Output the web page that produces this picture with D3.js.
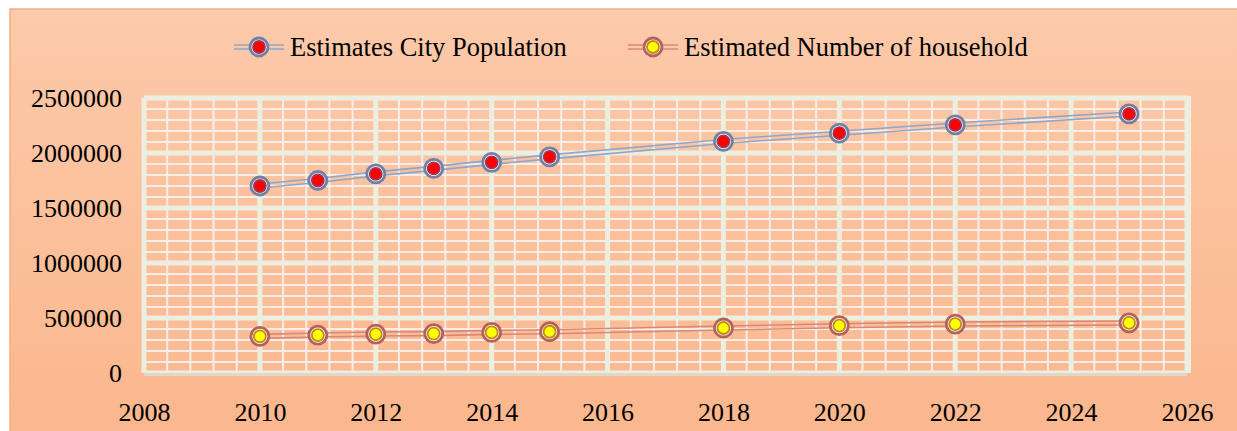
<!DOCTYPE html>
<html>
<head>
<meta charset="utf-8">
<script src="https://cdn.jsdelivr.net/npm/d3@7"></script>
<style>
  body { margin: 0; background: #fff; }
  svg { display: block; font-family: "Liberation Serif", "Times New Roman", serif; }
</style>
</head>
<body>
<svg id="chart" width="1237" height="431"></svg>
<script>
// data
var years = [2010, 2011, 2012, 2013, 2014, 2015, 2018, 2020, 2022, 2025];
var population = [1700000, 1750000, 1810000, 1860000, 1915000, 1965000, 2105000, 2180000, 2255000, 2355000];
var households = [333000, 345000, 354000, 358000, 369000, 375000, 409000, 430000, 445000, 455000];
var seriesNames = ["Estimates City Population", "Estimated Number of household"];
var xTicks = [2008, 2010, 2012, 2014, 2016, 2018, 2020, 2022, 2024, 2026];
var yTicks = [0, 500000, 1000000, 1500000, 2000000, 2500000];

var svg = d3.select("#chart");
var W = 1237, H = 431;
var margin = {top: 98, right: 50, bottom: 58, left: 144};
var plotW = 1187 - margin.left, plotH = 373 - margin.top;

var colPop = "#8ea7cb", colHh = "#d98878";

// background with gradient
var defs = svg.append("defs");
var grad = defs.append("linearGradient").attr("id", "bg")
    .attr("x1", 0).attr("y1", 0).attr("x2", 0).attr("y2", 1);
grad.append("stop").attr("offset", "0%").attr("stop-color", "#fccaaa");
grad.append("stop").attr("offset", "100%").attr("stop-color", "#fbb68c");

svg.append("rect")
    .attr("x", 10).attr("y", 9)
    .attr("width", W + 10).attr("height", H + 10)
    .attr("fill", "url(#bg)")
    .attr("stroke", "#f4ad7c").attr("stroke-width", 1.5);

var x = d3.scaleLinear().domain([2008, 2026]).range([0, plotW]);
var y = d3.scaleLinear().domain([0, 2500000]).range([plotH, 0]);

var g = svg.append("g")
    .attr("transform", "translate(" + margin.left + "," + margin.top + ")");

// minor grid
var minorX = d3.range(2008, 2026.001, 0.4);
var minorY = d3.range(0, 2500001, 100000);
var grid = g.append("g");
grid.selectAll(".mx").data(minorX).enter().append("line")
    .attr("x1", function(d) { return x(d); }).attr("x2", function(d) { return x(d); })
    .attr("y1", 0).attr("y2", plotH)
    .attr("stroke", "#f6eeea").attr("stroke-width", 2);
grid.selectAll(".my").data(minorY).enter().append("line")
    .attr("x1", 0).attr("x2", plotW)
    .attr("y1", function(d) { return y(d); }).attr("y2", function(d) { return y(d); })
    .attr("stroke", "#f6eeea").attr("stroke-width", 2);

// major grid
grid.selectAll(".Mx").data(xTicks).enter().append("line")
    .attr("x1", function(d) { return x(d); }).attr("x2", function(d) { return x(d); })
    .attr("y1", 0).attr("y2", plotH)
    .attr("stroke", "#ecefdf").attr("stroke-width", 5);
grid.selectAll(".My").data(yTicks).enter().append("line")
    .attr("x1", 0).attr("x2", plotW)
    .attr("y1", function(d) { return y(d); }).attr("y2", function(d) { return y(d); })
    .attr("stroke", "#ecefdf").attr("stroke-width", 5);
// frame edges
grid.append("line").attr("x1", plotW + 1).attr("x2", plotW + 1)
    .attr("y1", -2).attr("y2", plotH)
    .attr("stroke", "#ecefdf").attr("stroke-width", 6);
grid.append("line").attr("x1", 0).attr("x2", plotW)
    .attr("y1", plotH + 1).attr("y2", plotH + 1)
    .attr("stroke", "#d8d8d8").attr("stroke-width", 2);

// axes (labels only)
var xAxis = g.append("g")
    .attr("transform", "translate(0," + plotH + ")")
    .call(d3.axisBottom(x).tickValues(xTicks).tickFormat(d3.format("d")).tickSize(0).tickPadding(30));
var yAxis = g.append("g")
    .call(d3.axisLeft(y).tickValues(yTicks).tickFormat(d3.format("d")).tickSize(0).tickPadding(22));
[xAxis, yAxis].forEach(function(a) {
  a.select(".domain").remove();
  a.selectAll("text")
    .attr("fill", "#000")
    .style("font-family", "'Liberation Serif', 'Times New Roman', serif")
    .style("font-size", "26px");
});

// double lines
function doubleLine(sel, vals, col) {
  [-2, 2].forEach(function(off) {
    var line = d3.line()
      .x(function(d, i) { return x(years[i]); })
      .y(function(d) { return y(d) + off; });
    sel.append("path").datum(vals)
      .attr("d", line)
      .attr("fill", "none")
      .attr("stroke", col)
      .attr("stroke-width", 1.6);
  });
}

function marker(sel, ring, fill, inner) {
  sel.append("circle").attr("r", 9)
    .attr("fill", "#fff").attr("stroke", ring).attr("stroke-width", 2.8);
  sel.append("circle").attr("r", 6)
    .attr("fill", fill).attr("stroke", inner).attr("stroke-width", 1.8);
}

var styles = [
  {vals: population, line: colPop, ring: "#6d82a6", fill: "#ff0000", inner: "#a8324e"},
  {vals: households, line: colHh, ring: "#b3615a", fill: "#ffff00", inner: "#bf8a1a"}
];

styles.forEach(function(s) {
  doubleLine(g, s.vals, s.line);
  g.append("g").selectAll("g").data(s.vals).enter().append("g")
    .attr("transform", function(d, i) { return "translate(" + x(years[i]) + "," + y(d) + ")"; })
    .each(function() { marker(d3.select(this), s.ring, s.fill, s.inner); });
});

// legend
var legendX = [234, 628];
var legend = svg.append("g").selectAll("g").data(styles).enter().append("g")
    .attr("transform", function(d, i) { return "translate(" + legendX[i] + ",47)"; });
legend.each(function(s) {
  var lg = d3.select(this);
  [-2, 2].forEach(function(off) {
    lg.append("line").attr("x1", 0).attr("x2", 50)
      .attr("y1", off).attr("y2", off)
      .attr("stroke", s.line).attr("stroke-width", 1.6);
  });
  marker(lg.append("g").attr("transform", "translate(25,0)"), s.ring, s.fill, s.inner);
});
legend.append("text")
    .attr("x", 56).attr("y", 0).attr("dy", "0.33em")
    .style("font-size", "26.5px")
    .text(function(d, i) { return seriesNames[i]; });
</script>
</body>
</html>
